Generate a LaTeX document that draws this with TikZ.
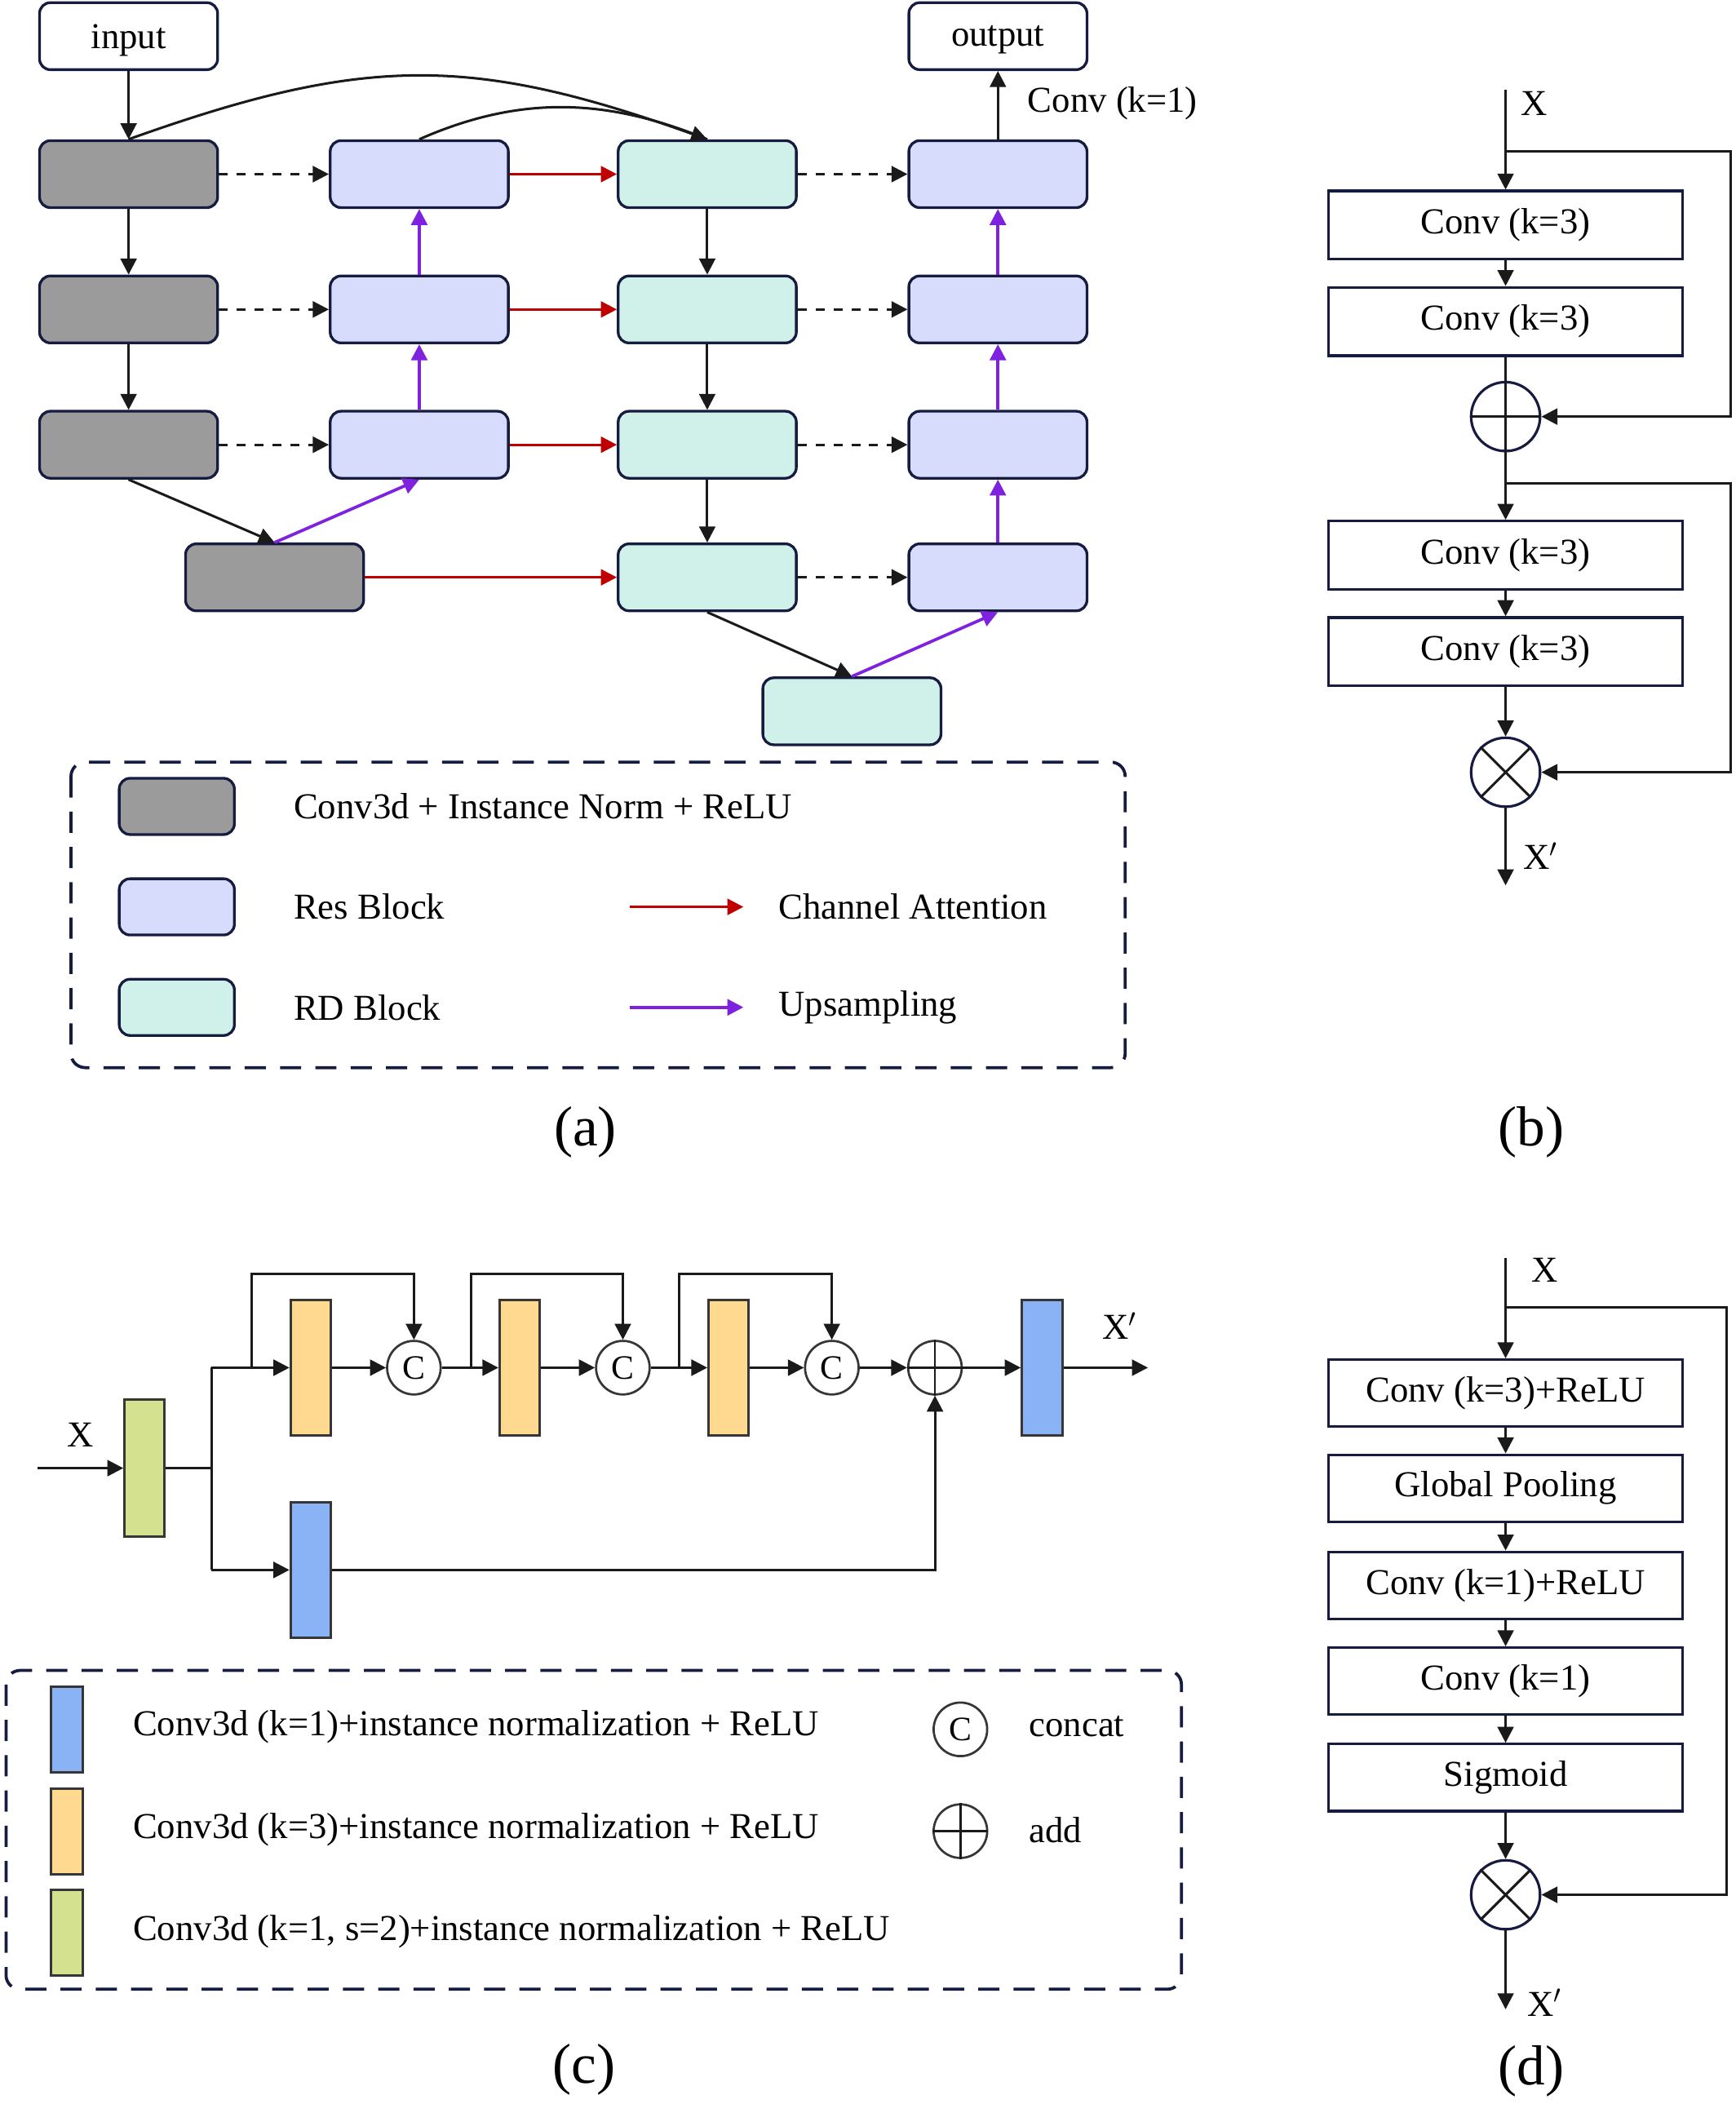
\documentclass[tikz,border=0pt]{standalone}
\usepackage{fontspec}
\setmainfont{Liberation Serif}
\usetikzlibrary{arrows.meta}
\definecolor{navy}{HTML}{161B40}
\definecolor{grayfill}{HTML}{9B9B9B}
\definecolor{resfill}{HTML}{D8DCFC}
\definecolor{rdfill}{HTML}{D0F1E9}
\definecolor{redarr}{HTML}{C00000}
\definecolor{purarr}{HTML}{7E22E0}
\definecolor{orangefill}{HTML}{FFD98F}
\definecolor{bluefill}{HTML}{8AB3F6}
\definecolor{greenfill}{HTML}{D4E18E}
\definecolor{blockedge}{HTML}{363636}
\definecolor{linek}{HTML}{1A1A1A}
\newcommand\myfs{\fontsize{15.5}{18}\selectfont}
\newcommand\mylbfs{\fontsize{24}{28}\selectfont}
\tikzset{
  ablk/.style={draw=navy, line width=1.15pt, rounded corners=4.6pt, minimum width=2.66cm, minimum height=1cm, inner sep=0pt},
  gblk/.style={ablk, fill=grayfill},
  rblk/.style={ablk, fill=resfill},
  dblk/.style={ablk, fill=rdfill},
  iob/.style={ablk, fill=white, font=\myfs, text depth=0pt},
  arr/.style={color=linek, line width=1.05pt, -{Triangle[length=6.8pt,width=6.8pt]}},
  plainln/.style={color=linek, line width=1.05pt},
  darr/.style={arr, dash pattern=on 3.8pt off 3.8pt},
  rarr/.style={arr, color=redarr},
  parr/.style={arr, color=purarr, line width=1.3pt},
  txt/.style={font=\myfs, inner sep=0pt},
  lbl/.style={font=\mylbfs, inner sep=0pt},
  legbox/.style={draw=navy, line width=1.3pt, dash pattern=on 9pt off 6pt, rounded corners=6pt},
  bbox/.style={draw=navy, line width=1.1pt, minimum width=5.28cm, minimum height=1.02cm, inner sep=0pt, font=\myfs, fill=white},
  opcirc/.style={circle, draw=navy, line width=1.1pt, minimum size=1.03cm, inner sep=0pt},
  cblk/.style={draw=blockedge, line width=1.05pt, minimum width=0.6cm, minimum height=2.02cm, inner sep=0pt},
  ccirc/.style={circle, draw=blockedge, line width=0.95pt, minimum size=0.8cm, inner sep=0pt, font=\fontsize{14.5}{16}\selectfont},
  swatch/.style={ablk, minimum width=1.72cm, minimum height=0.84cm},
  cswatch/.style={draw=blockedge, line width=1.05pt, minimum width=0.48cm, minimum height=1.28cm, inner sep=0pt}
}
\begin{document}
\begin{tikzpicture}[x=0.02cm, y=-0.02cm]
\useasboundingbox (0,0) rectangle (1296,1570.7);

% ---------------- (a) ----------------
\node[iob] (in) at (96,27) {input};
\node[iob] (out) at (745,27) {output};
\node[gblk] (g1) at (96,130) {};
\node[gblk] (g2) at (96,231) {};
\node[gblk] (g3) at (96,332) {};
\node[gblk] (g4) at (205,431) {};
\node[rblk] (r1) at (313,130) {};
\node[rblk] (r2) at (313,231) {};
\node[rblk] (r3) at (313,332) {};
\node[dblk] (d1) at (528,130) {};
\node[dblk] (d2) at (528,231) {};
\node[dblk] (d3) at (528,332) {};
\node[dblk] (d4) at (528,431) {};
\node[dblk] (d5) at (636,531) {};
\node[rblk] (q1) at (745,130) {};
\node[rblk] (q2) at (745,231) {};
\node[rblk] (q3) at (745,332) {};
\node[rblk] (q4) at (745,431) {};

\draw[arr] (in) -- (g1);
\draw[arr] (g1) -- (g2);
\draw[arr] (g2) -- (g3);
\draw[arr] (g3.south) -- (g4.north);
\draw[parr] (g4.north) -- (r3.south);
\draw[parr] (r3) -- (r2);
\draw[parr] (r2) -- (r1);
\draw[darr] (g1) -- (r1);
\draw[darr] (g2) -- (r2);
\draw[darr] (g3) -- (r3);
\draw[rarr] (r1) -- (d1);
\draw[rarr] (r2) -- (d2);
\draw[rarr] (r3) -- (d3);
\draw[rarr] (g4) -- (d4);
\draw[arr] (d1) -- (d2);
\draw[arr] (d2) -- (d3);
\draw[arr] (d3) -- (d4);
\draw[arr] (d4.south) -- (d5.north);
\draw[parr] (d5.north) -- (q4.south);
\draw[parr] (q4) -- (q3);
\draw[parr] (q3) -- (q2);
\draw[parr] (q2) -- (q1);
\draw[darr] (d1) -- (q1);
\draw[darr] (d2) -- (q2);
\draw[darr] (d3) -- (q3);
\draw[darr] (d4) -- (q4);
\draw[arr] (q1) -- (out);
\node[txt, anchor=west] (convk1) at (767,77) {Conv (k=1)};
\draw[arr] (g1.north) .. controls (272,41) and (352,41) .. (d1.north);
\draw[plainln] (r1.north) .. controls (390,70) and (455,74) .. (d1.north);

% legend (a)
\draw[legbox] (53,569) rectangle (840,797);
\node[swatch, fill=grayfill] (lg) at (132,602) {};
\node[swatch, fill=resfill] (lr) at (132,677) {};
\node[swatch, fill=rdfill] (ld) at (132,752) {};
\node[txt, anchor=west] (tlg) at (219,602) {Conv3d + Instance Norm + ReLU};
\node[txt, anchor=west] (tlr) at (219,677) {Res Block};
\node[txt, anchor=west] (tld) at (219,752) {RD Block};
\coordinate (ca1) at (470,677); \coordinate (ca2) at (555,677);
\coordinate (ua1) at (470,752); \coordinate (ua2) at (555,752);
\draw[rarr] (ca1) -- (ca2);
\draw[parr] (ua1) -- (ua2);
\node[txt, anchor=west] (tca) at (581,677) {Channel Attention};
\node[txt, anchor=west] (tua) at (581,752) {Upsampling};
\node[lbl] (la) at (437,845) {(a)};

% ---------------- (b) ----------------
\coordinate (bx) at (1124,67);
\coordinate (bs1) at (1124,113);
\coordinate (br1) at (1292,113);
\coordinate (bs2) at (1124,361);
\coordinate (br2) at (1292,361);
\coordinate (bout) at (1124,661);
\node[bbox] (b1) at (1124,168) {Conv (k=3)};
\node[bbox] (b2) at (1124,240) {Conv (k=3)};
\node[opcirc] (badd) at (1124,311) {};
\node[bbox] (b3) at (1124,414.5) {Conv (k=3)};
\node[bbox] (b4) at (1124,486.5) {Conv (k=3)};
\node[opcirc] (bmul) at (1124,576.5) {};
\draw[arr] (bx) -- (b1.north);
\draw[arr] (b1) -- (b2);
\draw[plainln] (b2.south) -- (badd.north);
\draw[plainln] (badd.north) -- (badd.south);
\draw[plainln] (badd.west) -- (badd.east);
\draw[arr] (badd.south) -- (b3.north);
\draw[arr] (b3) -- (b4);
\draw[arr] (b4.south) -- (bmul.north);
\draw[plainln] (bmul.north east) -- (bmul.south west);
\draw[plainln] (bmul.north west) -- (bmul.south east);
\draw[arr] (bmul.south) -- (bout);
\draw[arr] (bs1) -- (br1) |- (badd.east);
\draw[arr] (bs2) -- (br2) |- (bmul.east);
\node[txt, anchor=west] (bxl) at (1135,77) {X};
\node[txt, anchor=west] (bxo) at (1137,639) {X$'$};
\node[lbl] (lb) at (1143,845) {(b)};

% ---------------- (c) ----------------
\coordinate (cin) at (28,1096);
\node[cblk, fill=greenfill, minimum height=2.04cm] (cg) at (108,1096) {};
\coordinate (csplit) at (158,1096);
\coordinate (ctop) at (158,1021);
\coordinate (cbot) at (158,1172);
\node[cblk, fill=orangefill] (o1) at (232,1021) {};
\node[cblk, fill=orangefill] (o2) at (388,1021) {};
\node[cblk, fill=orangefill] (o3) at (544,1021) {};
\node[cblk, fill=bluefill] (bl1) at (778,1021) {};
\node[cblk, fill=bluefill] (bl2) at (232,1172) {};
\node[ccirc] (c1) at (309,1021) {C};
\node[ccirc] (c2) at (465,1021) {C};
\node[ccirc] (c3) at (621,1021) {C};
\node[ccirc] (cadd) at (698,1021) {};
\coordinate (cout) at (857,1021);
\coordinate (s1) at (188,1021); \coordinate (s1t) at (188,951);
\coordinate (s2) at (352,1021); \coordinate (s2t) at (352,951);
\coordinate (s3) at (507,1021); \coordinate (s3t) at (507,951);
\draw[arr] (cin) -- (cg.west);
\draw[plainln] (cg.east) -- (csplit);
\draw[plainln] (ctop) -- (cbot);
\draw[arr] (ctop) -- (o1.west);
\draw[arr] (cbot) -- (bl2.west);
\draw[arr] (o1) -- (c1);
\draw[arr] (c1) -- (o2);
\draw[arr] (o2) -- (c2);
\draw[arr] (c2) -- (o3);
\draw[arr] (o3) -- (c3);
\draw[arr] (c3) -- (cadd);
\draw[arr] (cadd) -- (bl1);
\draw[arr] (bl1.east) -- (cout);
\draw[arr] (s1) -- (s1t) -| (c1.north);
\draw[arr] (s2) -- (s2t) -| (c2.north);
\draw[arr] (s3) -- (s3t) -| (c3.north);
\draw[arr] (bl2.east) -| (cadd.south);
\draw[plainln, line width=0.95pt] (cadd.north) -- (cadd.south);
\draw[plainln, line width=0.95pt] (cadd.west) -- (cadd.east);
\node[txt] (cxl) at (60,1071) {X};
\node[txt] (cxo) at (836,990) {X$'$};

% legend (c)
\draw[legbox] (4.5,1247) rectangle (882,1485);
\node[cswatch, fill=bluefill] (sw1) at (50,1291) {};
\node[cswatch, fill=orangefill] (sw2) at (50,1367) {};
\node[cswatch, fill=greenfill] (sw3) at (50,1443) {};
\node[txt, anchor=west] (t1) at (99,1289) {Conv3d (k=1)+instance normalization + ReLU};
\node[txt, anchor=west] (t2) at (99,1366) {Conv3d (k=3)+instance normalization + ReLU};
\node[txt, anchor=west] (t3) at (99,1442) {Conv3d (k=1, s=2)+instance normalization + ReLU};
\node[ccirc] (lc) at (717,1291) {C};
\node[ccirc] (ladd) at (717,1367) {};
\draw[plainln, line width=0.95pt] (ladd.north) -- (ladd.south);
\draw[plainln, line width=1.2pt] (ladd.west) -- (ladd.east);
\node[txt, anchor=west] (tcc) at (768,1289) {concat};
\node[txt, anchor=west] (tad) at (768,1366) {add};
\node[lbl] (lcl) at (436,1545) {(c)};

% ---------------- (d) ----------------
\coordinate (dx) at (1124,939);
\coordinate (ds) at (1124,976);
\coordinate (dr) at (1289,976);
\coordinate (dout) at (1124,1500);
\node[bbox, minimum height=1cm] (e1) at (1124,1040) {Conv (k=3)+ReLU};
\node[bbox, minimum height=1cm] (e2) at (1124,1111) {Global Pooling};
\node[bbox, minimum height=1cm] (e3) at (1124,1183.5) {Conv (k=1)+ReLU};
\node[bbox, minimum height=1cm] (e4) at (1124,1255) {Conv (k=1)};
\node[bbox, minimum height=1cm] (e5) at (1124,1327) {Sigmoid};
\node[opcirc] (emul) at (1124,1414.5) {};
\draw[arr] (dx) -- (e1.north);
\draw[arr] (e1) -- (e2);
\draw[arr] (e2) -- (e3);
\draw[arr] (e3) -- (e4);
\draw[arr] (e4) -- (e5);
\draw[arr] (e5.south) -- (emul.north);
\draw[plainln] (emul.north east) -- (emul.south west);
\draw[plainln] (emul.north west) -- (emul.south east);
\draw[arr] (emul.south) -- (dout);
\draw[arr] (ds) -- (dr) |- (emul.east);
\node[txt, anchor=west] (dxl) at (1143,948) {X};
\node[txt, anchor=west] (dxo) at (1140,1495) {X$'$};
\node[lbl] (ld2) at (1143,1546) {(d)};
\end{tikzpicture}
\end{document}
